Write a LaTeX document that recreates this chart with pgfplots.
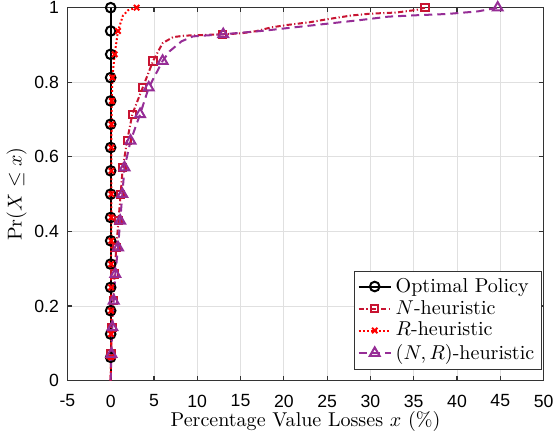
\documentclass[border=0pt]{standalone}
\usepackage{pgfplots}
\pgfplotsset{compat=1.18}
\usepackage{fontspec}
\newfontfamily\tickfont{Liberation Sans}
\definecolor{nred}{RGB}{200,20,50}
\definecolor{rred}{RGB}{255,0,0}
\definecolor{nrpurple}{RGB}{150,45,150}
\begin{document}
\begin{tikzpicture}
\begin{axis}[
  scale only axis, width=237.5pt, height=186pt,
  xmin=-5, xmax=50, ymin=0, ymax=1,
  xtick={-5,0,5,10,15,20,25,30,35,40,45,50},
  ytick={0,0.2,0.4,0.6,0.8,1},
  grid=major, grid style={black!12, line width=0.4pt},
  axis line style={black!80, line width=0.6pt},
  tick style={black!80, line width=0.6pt},
  tick align=inside, major tick length=2.4pt,
  tick label style={font=\tickfont\fontsize{8.8}{10}\selectfont, inner sep=0.8pt},
  /pgf/number format/assume math mode=true,
  xticklabel style={yshift=-6pt},
  yticklabel style={xshift=-3.2pt},
  label style={font=\fontsize{10}{12}\selectfont},
  xlabel style={yshift=2.2pt},
  ylabel style={yshift=-0.5pt},
  xlabel={Percentage Value Losses $x$ (\%)},
  ylabel={$\mathrm{Pr}(X\leq x)$},
  legend style={at={(0.996,0.03)}, anchor=south east,
    font=\fontsize{10}{12}\selectfont, draw=black!80,
    inner sep=1.5pt, row sep=-1.5pt},
  legend cell align=left,
  legend image code/.code={\draw[mark indices={2}] plot coordinates {(0cm,0cm)(0.28cm,0cm)(0.56cm,0cm)};},
]
\addplot[black, line width=1pt, mark=o, mark size=2.4pt, mark options={solid},
  mark indices={2,3,4,5,6,7,8,9,10,11,12,13,14,15,16,17}] coordinates {
(0,0) (0,0.0625) (0,0.125) (0,0.1875) (0,0.25) (0,0.3125) (0,0.375) (0,0.4375)
(0,0.5) (0,0.5625) (0,0.625) (0,0.6875) (0,0.75) (0,0.8125) (0,0.875) (0,0.9375) (0,1)
};
\addlegendentry{Optimal Policy}
\addplot[nred, line width=1pt, dash pattern=on 2.6pt off 1.2pt on 0.6pt off 1.2pt,
  mark=square, mark size=1.8pt, mark options={solid},
  mark indices={2,3,4,5,6,7,8,9,10,11,12,13,17,28}] coordinates {
(0,0) (0.05,0.0714) (0.15,0.1429) (0.3,0.2143) (0.45,0.2857) (0.65,0.3571)
(0.9,0.4286) (1.15,0.5) (1.4,0.5714) (1.9,0.6429) (2.5,0.7143) (3.7,0.7857)
(4.9,0.8571) (6.0,0.905) (7.2,0.921) (8.5,0.925) (12.9,0.9286) (15,0.931)
(16.8,0.937) (18.5,0.947) (20.5,0.954) (23,0.961) (25,0.969) (27.8,0.979)
(30,0.984) (33,0.987) (35.3,0.994) (36.3,1)
};
\addlegendentry{$N$-heuristic}
\addplot[rred, line width=1pt, dash pattern=on 0.9pt off 1.1pt,
  mark=x, mark size=1.9pt, mark options={solid},
  mark indices={2,3,4,5,6,7,8,9,10,11,12,13,14,15,16,19}] coordinates {
(0,0) (0.04,0.0625) (0.05,0.125) (0.05,0.1875) (0.06,0.25) (0.06,0.3125)
(0.07,0.375) (0.07,0.4375) (0.08,0.5) (0.08,0.5625) (0.09,0.625) (0.1,0.6875)
(0.13,0.75) (0.2,0.8125) (0.46,0.875) (0.85,0.9375) (1.4,0.978) (2.0,0.993) (3.0,1)
};
\addlegendentry{$R$-heuristic}
\addplot[nrpurple, line width=1pt, dash pattern=on 4pt off 2.5pt,
  mark=triangle, mark size=2.8pt, mark options={solid},
  mark indices={2,3,4,5,6,7,8,9,10,11,12,13,17,26}] coordinates {
(0,0) (0.08,0.0714) (0.2,0.1429) (0.35,0.2143) (0.54,0.2857) (0.85,0.3571)
(1.1,0.4286) (1.35,0.5) (1.6,0.5714) (2.3,0.6429) (3.4,0.7143) (4.4,0.7857)
(6.0,0.8571) (6.8,0.883) (8.2,0.91) (9.5,0.923) (13,0.9286) (17.6,0.938)
(20.7,0.946) (25,0.957) (28.9,0.967) (32.1,0.976) (35.6,0.98) (38.8,0.983)
(42.4,0.99) (44.7,1)
};
\addlegendentry{$(N,R)$-heuristic}
\end{axis}
\end{tikzpicture}
\end{document}
